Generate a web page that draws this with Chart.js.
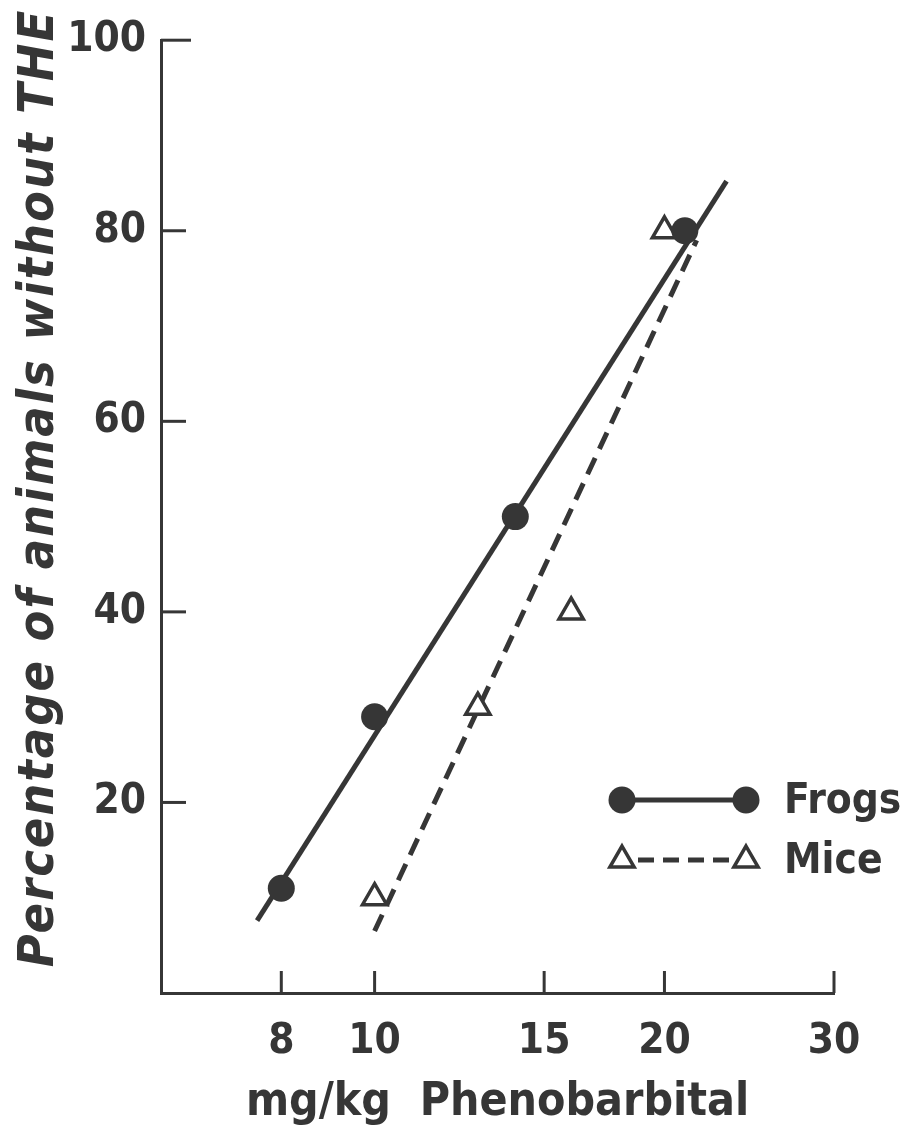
<!DOCTYPE html>
<html>
<head>
<meta charset="utf-8">
<script src="https://cdn.jsdelivr.net/npm/chart.js@4.4.1/dist/chart.umd.min.js"></script>
<style>
  html, body { margin: 0; padding: 0; background: #ffffff; }
  #wrap { width: 911px; height: 1131px; }
</style>
</head>
<body>
<div id="wrap"><canvas id="c" width="911" height="1131"></canvas></div>
<script>
// ---- data ----
const xTicks = [8, 10, 15, 20, 30];
const yTicks = [20, 40, 60, 80, 100];

const frogDose = [8, 10, 14, 21];
const frogPct  = [11, 29, 50, 80];

const miceDose = [10, 12.8, 16, 20];
const micePct  = [10, 30, 40, 80];

// fitted lines (end points)
const frogFitDose = [7.55, 23.2];
const frogFitPct  = [7.6, 85.2];
const miceFitDose = [10, 21.6];
const miceFitPct  = [6.5, 79];

const xTitle = 'mg/kg  Phenobarbital';
const yTitle = 'Percentage of animals without THE';
const seriesNames = ['Frogs', 'Mice'];

// ---- styling ----
const INK = '#363636';
const FONT = '"DejaVu Sans Condensed", "DejaVu Sans", sans-serif';

function pts(xs, ys) { return xs.map((x, i) => ({ x: x, y: ys[i] })); }

const inwardTicks = {
  id: 'inwardTicks',
  afterDraw(chart) {
    const ctx = chart.ctx;
    const xs = chart.scales.x, ys = chart.scales.y;
    const a = chart.chartArea;
    ctx.save();
    ctx.strokeStyle = INK;
    ctx.lineWidth = 3;
    ctx.lineCap = 'butt';
    xTicks.forEach(v => {
      const px = xs.getPixelForValue(v);
      ctx.beginPath(); ctx.moveTo(px, a.bottom); ctx.lineTo(px, a.bottom - 22); ctx.stroke();
    });
    yTicks.forEach(v => {
      const py = ys.getPixelForValue(v);
      ctx.beginPath(); ctx.moveTo(a.left, py); ctx.lineTo(a.left + (v === 100 ? 30 : 25), py); ctx.stroke();
    });
    ctx.restore();
  }
};

const yAxisTitle = {
  id: 'yAxisTitle',
  afterDraw(chart) {
    const ctx = chart.ctx;
    ctx.save();
    ctx.fillStyle = INK;
    ctx.font = 'italic bold 50px ' + FONT;
    if ('letterSpacing' in ctx) ctx.letterSpacing = '2px';
    ctx.translate(40, 488);
    ctx.rotate(-Math.PI / 2);
    ctx.textAlign = 'center';
    ctx.textBaseline = 'middle';
    ctx.fillText(yTitle, 0, 0);
    ctx.restore();
  }
};

const customLegend = {
  id: 'customLegend',
  afterDraw(chart) {
    const ctx = chart.ctx;
    ctx.save();
    ctx.strokeStyle = INK;
    ctx.fillStyle = INK;
    // Frogs
    const fy = 800, x1 = 622, x2 = 746, tx = 784;
    ctx.lineWidth = 5;
    ctx.beginPath(); ctx.moveTo(x1, fy); ctx.lineTo(x2, fy); ctx.stroke();
    [x1, x2].forEach(x => { ctx.beginPath(); ctx.arc(x, fy, 13.5, 0, Math.PI * 2); ctx.fill(); });
    ctx.font = 'bold 42px ' + FONT;
    ctx.textBaseline = 'middle';
    ctx.textAlign = 'left';
    ctx.fillText(seriesNames[0], tx, fy + 2);
    // Mice
    const my = 860;
    ctx.lineWidth = 5;
    ctx.setLineDash([16, 9]);
    ctx.beginPath(); ctx.moveTo(x1 + 16, my); ctx.lineTo(x2 - 14, my); ctx.stroke();
    ctx.setLineDash([]);
    ctx.lineWidth = 3.5;
    [x1, x2].forEach(x => {
      const r = 14;
      ctx.beginPath();
      ctx.moveTo(x, my - r);
      ctx.lineTo(x + r * Math.sin(Math.PI * 2 / 3), my - r * Math.cos(Math.PI * 2 / 3));
      ctx.lineTo(x + r * Math.sin(Math.PI * 4 / 3), my - r * Math.cos(Math.PI * 4 / 3));
      ctx.closePath();
      ctx.fillStyle = '#fff'; ctx.fill();
      ctx.stroke();
    });
    ctx.fillStyle = INK;
    ctx.fillText(seriesNames[1], tx, my + 2);
    ctx.restore();
  }
};

new Chart(document.getElementById('c'), {
  type: 'scatter',
  data: {
    datasets: [
      {
        label: seriesNames[0],
        data: pts(frogDose, frogPct),
        pointStyle: 'circle',
        pointRadius: 13.5,
        backgroundColor: INK,
        borderColor: INK,
        borderWidth: 0,
        showLine: false,
        order: 0
      },
      {
        label: seriesNames[1],
        data: pts(miceDose, micePct),
        pointStyle: 'triangle',
        pointRadius: 14,
        backgroundColor: '#ffffff',
        borderColor: INK,
        pointBorderWidth: 3.5,
        showLine: false,
        order: 1
      },
      {
        label: 'Frogs fit',
        data: pts(frogFitDose, frogFitPct),
        showLine: true,
        pointRadius: 0,
        borderColor: INK,
        borderWidth: 5,
        order: 2
      },
      {
        label: 'Mice fit',
        data: pts(miceFitDose, miceFitPct),
        showLine: true,
        pointRadius: 0,
        borderColor: INK,
        borderWidth: 5,
        borderDash: [18, 10],
        order: 3
      }
    ]
  },
  options: {
    responsive: false,
    animation: false,
    events: [],
    layout: { padding: { top: 31, right: 77, left: 0, bottom: 0 } },
    plugins: {
      legend: { display: false },
      tooltip: { enabled: false },
      title: { display: false }
    },
    scales: {
      x: {
        type: 'logarithmic',
        min: 6, max: 30,
        afterBuildTicks(s) { s.ticks = xTicks.map(v => ({ value: v })); },
        afterFit(s) { s.height = 138; },
        border: { display: true, color: INK, width: 3 },
        grid: { display: true, drawOnChartArea: false, drawTicks: false, color: 'rgba(0,0,0,0)' },
        ticks: {
          autoSkip: false, maxRotation: 0, padding: 24,
          color: INK, font: { family: FONT, size: 42, weight: 'bold' },
          callback: v => String(v)
        },
        title: {
          display: true, text: xTitle, color: INK,
          font: { family: FONT, size: 46, weight: 'bold' },
          padding: { top: 0, bottom: 0 }
        }
      },
      y: {
        type: 'linear',
        min: 0, max: 100,
        afterBuildTicks(s) { s.ticks = yTicks.map(v => ({ value: v })); },
        afterFit(s) { s.width = 161; },
        border: { display: true, color: INK, width: 3 },
        grid: { display: true, drawOnChartArea: false, drawTicks: false, color: 'rgba(0,0,0,0)' },
        ticks: {
          autoSkip: false, padding: 15,
          color: INK, font: { family: FONT, size: 42, weight: 'bold' },
          callback: v => String(v)
        },
        title: { display: false }
      }
    }
  },
  plugins: [inwardTicks, yAxisTitle, customLegend]
});
</script>
</body>
</html>
